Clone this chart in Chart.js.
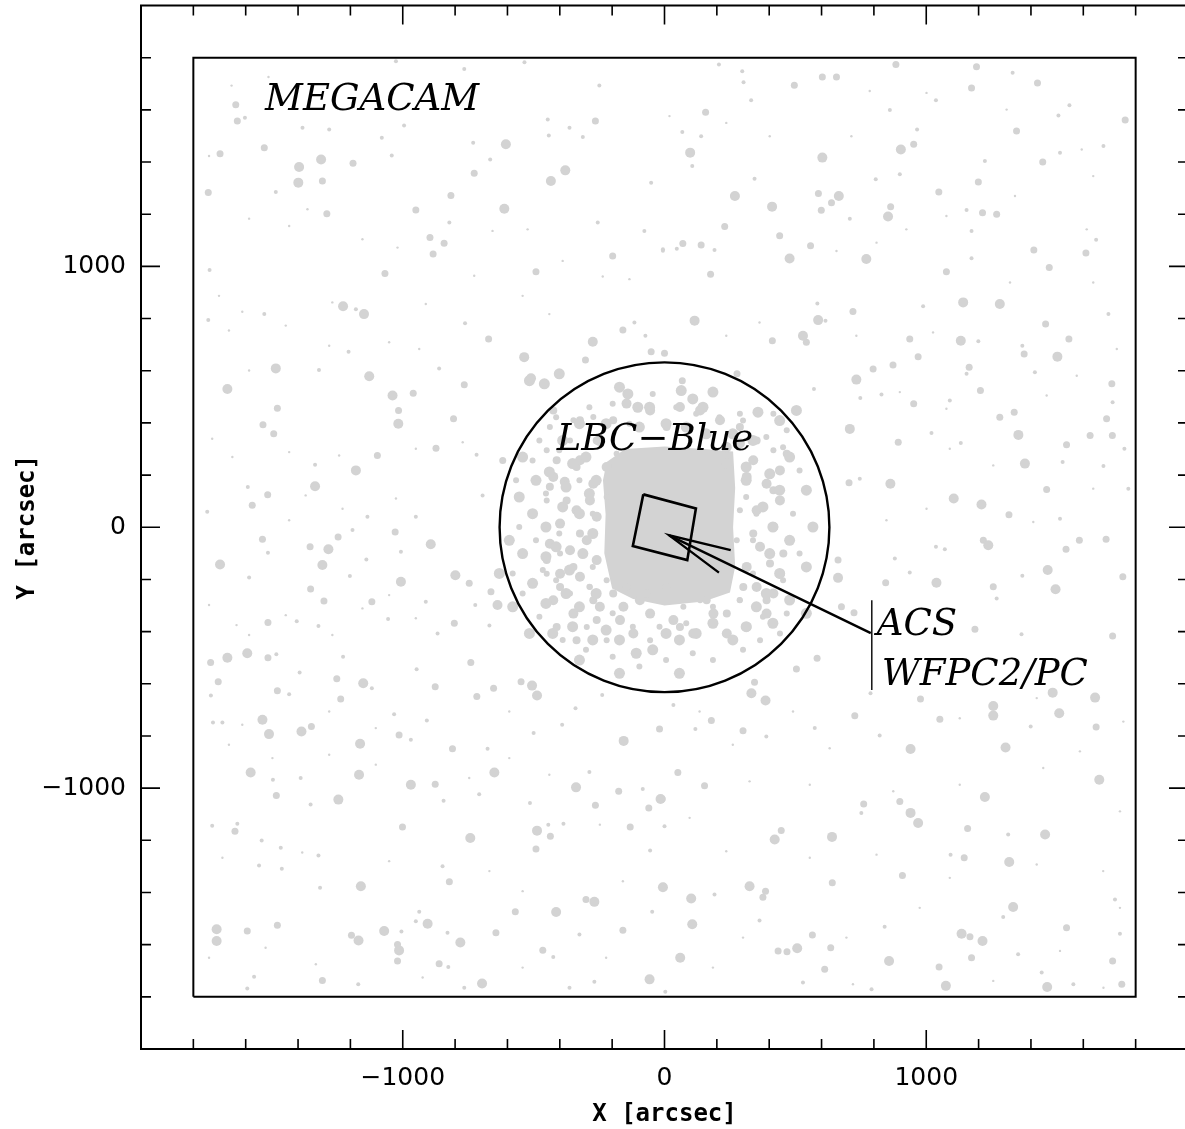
<!DOCTYPE html>
<html><head><meta charset="utf-8">
<script src="https://cdn.jsdelivr.net/npm/chart.js@4.4.0/dist/chart.umd.min.js"></script>
<style>html,body{margin:0;padding:0;background:#fff;overflow:hidden;} canvas{display:block;}</style>
</head><body>
<canvas id="c" width="1200" height="1129" style="width:1200px;height:1129px"></canvas>
<script>
// ---- axis ticks (arcsec) ----
const xMajorTicks = [-1000, 0, 1000];
const yMajorTicks = [-1000, 0, 1000];
const minorTicks = [-1800,-1600,-1400,-1200,-800,-600,-400,-200,200,400,600,800,1200,1400,1600,1800];

// ---- field outlines (arcsec) ----
const megacamField = [[-1800,-1800],[-1800,1800],[1800,1800],[1800,-1800],[-1800,-1800]];
const lbcBlueField = {cx: 0, cy: 0, r: 630};
const acsField = [[-81,126],[120,72],[87,-126],[-121,-72],[-81,126]];
const arrowShaft = [[788,-406],[18,-31]];
const arrowHead = [[253,-88],[18,-31],[208,-174]];
const labelBar = [[792,-280],[792,-624]];
const fieldLabels = [
  {text:'MEGACAM', x:-1526, y:1598},
  {text:'LBC\u2212Blue', x:-412, y:295},
  {text:'ACS', x:811, y:-414},
  {text:'WFPC2/PC', x:830, y:-603}
];

// ---- dense cluster core outline (arcsec) ----
const clusterCore = [[-221,250],[-150,300],[0,310],[150,300],[262,290],[270,150],[262,0],[270,-150],[250,-250],[150,-285],[0,-300],[-120,-275],[-200,-235],[-230,-100],[-225,50],[-235,180]];

// ---- stars (arcsec), by brightness class ----
const brightStars = [
[-1396,1381],[-1399,1321],[-1312,1410],[-606,1468],[-612,1221],[-379,1368],[-434,1327],[-1228,847],[-1148,817],[-274,711],[-536,652],[-510,571],[-1485,609],[-1670,530],[-1128,579],[-1039,505],[-1017,397],[-1179,218],[-1335,157],
[98,1436],[603,1417],[903,1448],[269,1270],[411,1229],[666,1270],[854,1191],[478,1030],[771,1028],[1141,862],[1281,856],[587,794],[115,792],[529,734],[1132,715],[1501,654],[733,566],[1352,354],[708,377],[1377,244],[1211,87],[1105,110],[863,167],
[-1698,-143],[-1284,-84],[-1307,-145],[-893,-65],[-1007,-209],[-799,-184],[-638,-298],[-1670,-500],[-1594,-483],[-1151,-598],[-506,-607],[-487,-645],[-1536,-738],[-1511,-793],[-1387,-783],[-1163,-830],[-156,-819],[-1581,-940],[-1167,-949],[-969,-987],[-650,-940],[-1246,-1044],[-338,-997],[-15,-1042],[-742,-1191],[-487,-1163],[-1160,-1376],[-6,-1380],[-268,-1436],[-414,-1475],[-1711,-1541],[-1711,-1586],[-1169,-1584],[-1071,-1548],[-905,-1520],[-1014,-1622],[-780,-1592],[-697,-1749],[-57,-1733],
[1237,-69],[1464,-164],[1494,-238],[1039,-213],[663,-194],[332,-636],[386,-664],[1256,-685],[1256,-722],[1483,-634],[1508,-713],[1645,-653],[940,-850],[1303,-844],[940,-1095],[969,-1134],[1224,-1034],[1661,-968],[1454,-1178],[421,-1197],[640,-1187],[1317,-1283],[325,-1376],[102,-1423],[1332,-1456],[106,-1522],[1135,-1558],[1215,-1586],[507,-1614],[60,-1650],[858,-1663],[1075,-1758],[1462,-1762]
];
const mediumStars = [
[-1638,1620],[-1632,1557],[-1698,1432],[-1529,1455],[-1307,1327],[-1190,1395],[-1743,1283],[-1290,1202],[-950,1216],[-816,1272],[-727,1357],[-264,1557],[-198,1040],[-491,979],[-896,1111],[-842,1089],[-884,1047],[-1068,973],[-672,722],[-302,641],[-455,550],[-159,756],[-51,673],[-960,514],[-1016,448],[-765,546],[-1479,456],[-1534,393],[-1493,358],[-806,416],[-873,303],[-1097,275],[-1516,125],[-1575,84],[-618,256],
[884,1774],[1192,1765],[1173,1684],[1425,1703],[603,1726],[657,1726],[496,1694],[157,1591],[952,1468],[1345,1519],[1445,1400],[1760,1561],[1199,1323],[1048,1285],[588,1279],[638,1244],[599,1215],[864,1229],[230,1153],[440,1117],[558,1079],[1077,979],[1215,1206],[1269,1200],[1411,1063],[1470,996],[1610,1051],[140,1082],[70,1088],[176,970],[720,827],[542,709],[412,715],[937,722],[1456,779],[1545,722],[1374,664],[969,654],[873,622],[797,607],[1164,613],[1207,524],[1709,550],[1336,441],[1281,422],[1689,416],[952,473],[1626,352],[1711,352],[1536,316],[893,326],[1460,145],[705,171],[1316,48],[0,667],[277,588],[68,562],
[-1536,-46],[-1354,-75],[-1247,-37],[-1029,-18],[-746,-215],[-1352,-237],[-1301,-283],[-1118,-286],[-663,-247],[-1515,-365],[-803,-368],[-1734,-518],[-1515,-500],[-1705,-592],[-1252,-581],[-1479,-627],[-1237,-658],[-876,-611],[-717,-649],[-653,-617],[-740,-518],[-548,-592],[-1349,-764],[-1014,-796],[-810,-849],[-19,-773],[-876,-985],[-1483,-1028],[-175,-1012],[-264,-1066],[-60,-1076],[-1641,-1165],[-1001,-1149],[-436,-1184],[-491,-1233],[-131,-1149],[-822,-1359],[-300,-1427],[-570,-1474],[-1594,-1548],[-1479,-1526],[-1196,-1564],[-1020,-1599],[-1020,-1663],[-644,-1554],[-465,-1621],[-159,-1545],[-861,-1673],[-1307,-1737],
[1218,-50],[1585,-50],[1687,-46],[1534,-84],[1751,-190],[1256,-228],[845,-213],[663,-126],[676,-305],[724,-328],[1186,-391],[1712,-417],[583,-502],[504,-543],[344,-594],[179,-741],[300,-780],[727,-723],[978,-658],[1052,-736],[1649,-766],[51,-940],[153,-991],[-9,-1042],[899,-1051],[761,-1061],[1158,-1155],[446,-1162],[1145,-1267],[909,-1335],[641,-1363],[386,-1395],[376,-1418],[-4,-1376],[565,-1563],[1167,-1570],[1536,-1535],[434,-1624],[468,-1627],[635,-1612],[612,-1694],[1049,-1686],[1173,-1650],[1712,-1663],[1747,-1752]
];
const faintStars = [
[-1603,1570],[-1485,1285],[-1080,1493],[-1042,1425],[-731,1474],[-666,1410],[-312,1496],[-363,1531],[-442,1502],[-822,1168],[-1738,986],[-1743,794],[-1529,817],[-1179,836],[-762,782],[-73,734],[-115,785],[-77,1136],[-51,1321],[-1207,673],[-1320,603],[-861,609],[-1592,154],[-1335,240],[-1747,59],[-1135,40],[-950,40],[-695,122],[-718,278],[-1026,1786],[-535,1782],[-765,1757],[-249,1693],[-446,1563],[-255,1168],[-6,1066],[-1383,1531],[-995,1540],[-1281,1525],
[1330,1742],[297,1748],[302,1706],[208,1774],[106,1385],[68,1515],[140,1499],[331,1637],[965,1525],[861,1599],[1037,1637],[1511,1436],[1547,1618],[1505,1578],[1677,1461],[1224,1404],[899,1353],[807,1334],[344,1336],[708,1183],[1173,1031],[1154,1216],[1173,1136],[1649,1102],[47,1068],[191,1063],[-6,1060],[988,847],[615,792],[584,858],[1199,713],[1696,817],[1367,696],[1415,594],[1154,588],[1712,479],[1090,486],[829,509],[748,495],[571,530],[1020,361],[1132,323],[1521,250],[1677,235],[1757,301],[746,186],[1511,33],[1772,148],
[-1515,-98],[-1192,-11],[-1007,-94],[-1139,-124],[-1202,-187],[-1587,-193],[-912,-286],[-723,-298],[-1405,-360],[-1322,-379],[-1056,-352],[-669,-377],[-867,-407],[-1483,-487],[-1228,-496],[-1394,-557],[-1118,-617],[-1434,-640],[-1733,-645],[-947,-544],[-1725,-748],[-1689,-748],[-1033,-717],[-969,-815],[-908,-741],[-676,-849],[-500,-789],[-391,-757],[-340,-694],[-238,-643],[-1496,-968],[-1390,-961],[-1352,-1063],[-844,-1048],[-708,-1023],[-287,-938],[-83,-1003],[-514,-1057],[-1632,-1137],[-1728,-1144],[-1539,-1201],[-444,-1140],[-386,-1137],[-55,-1239],[0,-1146],[-1466,-1229],[-1462,-1309],[-1549,-1297],[-1322,-1258],[-848,-1299],[-1316,-1382],[-47,-1474],[-1005,-1550],[-937,-1474],[-950,-1510],[-829,-1554],[-425,-1647],[-325,-1561],[-826,-1686],[-1568,-1723],[-1594,-1768],[-1170,-1752],[-765,-1765],[-363,-1765],[-268,-1742],
[1071,-84],[1037,-75],[880,-120],[937,-173],[1367,-186],[1269,-273],[1364,-410],[34,-681],[389,-802],[118,-773],[787,-636],[822,-798],[1399,-764],[574,-770],[752,-1095],[1313,-1178],[1093,-1255],[191,-1408],[1294,-1494],[1721,-1427],[363,-1507],[841,-1531],[1740,-1558],[1351,-1637],[1441,-1707],[3,-1781],[791,-1771],[529,-1745],[1562,-1752]
];
const tinyStars = [
[-1654,1693],[-1513,1726],[-1740,1423],[-1587,1183],[-1434,1155],[-1364,1219],[-1154,1104],[-1020,1072],[-727,964],[-657,1136],[-523,1142],[-389,1021],[-236,961],[-134,951],[-1702,887],[-1613,826],[-1447,773],[-1664,754],[-1587,601],[-1281,696],[-1052,709],[-937,683],[-440,817],[-1269,862],[-912,856],[-542,887],[-1728,339],[-1651,269],[-1434,288],[-1243,275],[-950,301],[-771,326],[-1371,122],[-1230,71],[-1026,110],[-1434,27],
[19,1576],[236,1550],[402,1499],[714,1499],[784,1672],[1001,1665],[1307,1601],[1594,1448],[1638,1346],[1613,1142],[1339,1270],[1077,1193],[924,1142],[810,1091],[657,1059],[363,785],[236,734],[733,734],[1026,747],[1320,938],[1638,938],[1728,683],[1575,581],[1460,505],[1077,454],[899,518],[1090,301],[1256,237],[1638,148],[1001,71],[1409,20],[848,27],
[-1740,-298],[-1635,-375],[-1587,-413],[-1447,-337],[-1269,-413],[-1154,-311],[-1052,-260],[-950,-349],[-1613,-757],[-1664,-834],[-1281,-706],[-1103,-770],[-1498,-885],[-1281,-872],[-1103,-910],[-746,-961],[-593,-885],[-440,-949],[-247,-1140],[-1689,-1267],[-1384,-1247],[-1052,-1280],[-669,-1318],[-542,-1395],[-159,-1357],[-223,-1650],[-1740,-1650],[-1524,-1612],[-1332,-1675],[-924,-1726],[-542,-1688],[-593,-706],
[134,-706],[261,-834],[491,-706],[631,-847],[822,-796],[1128,-732],[1422,-655],[1587,-859],[1753,-745],[1740,-1089],[1447,-923],[1128,-987],[874,-1012],[555,-987],[325,-974],[96,-1114],[236,-1242],[555,-1267],[810,-1255],[1090,-1344],[1422,-1293],[1676,-1318],[1740,-1459],[1511,-1624],[975,-1459],[695,-1573],[300,-1573],[185,-1688],[720,-1752],[1256,-1739],[1677,-1765]
];
const clusterBlobs = [
[-516,562],[-459,550],[-402,588],[-172,537],[-140,511],[-102,460],[-57,460],[64,524],[108,492],[147,460],[185,518],[357,441],[440,409],[504,448],
[-542,269],[-491,180],[-440,212],[-376,154],[-351,244],[-300,269],[-555,116],[-504,52],[-453,1],[-389,78],[-325,52],[-287,129],
[-593,-50],[-542,-101],[-453,-113],[-414,-75],[-363,-164],[-312,-101],[-274,-24],[-504,-215],[-453,-292],[-376,-254],[-325,-305],[-261,-254],
[-427,-407],[-351,-381],[-274,-432],[-223,-394],[-172,-432],[-108,-483],[-45,-470],[6,-407],[57,-432],[121,-407],[185,-368],[261,-432],[312,-381],[351,-305],[389,-254],
[440,-177],[402,-101],[478,-50],[414,1],[376,78],[440,142],[402,205],[312,231],[338,333],[261,358],[478,269],[542,142],[567,1],[542,-152],[478,-279],[414,-368],[542,-330],
[57,-560],[-172,-560],[-325,-509],[-516,-407],[-580,-305],[-631,-177],
[-261,180],[-249,333],[-325,397],[-389,333],[-223,397],[-96,384],[6,397],[83,384],[159,358],[236,307],[312,180]
];
const clusterMottle = [
[-425,193],[-381,174],[-323,257],[-285,103],[-336,65],[-399,14],[-259,40],[-438,-63],[-361,-88],[-297,-50],[-399,-178],[-323,-190],[-259,-126],[-425,-280],[-348,-331],[-247,-305],[-170,-356],[-119,-407],[-55,-331],[34,-356],[110,-407],[187,-331],[238,-407],[314,-382],[390,-331],[416,-254],[441,-178],[352,-229],[314,-152],[365,-75],[416,1],[352,65],[441,103],[390,167],[314,193],[441,218],[339,257],[288,321],[212,410],[136,448],[59,461],[-55,448],[-145,474],[238,244],[-221,231],[-272,167],[-157,-305],[-94,-280]
];
const clusterMottle2 = [
[-412,257],[-336,231],[-438,155],[-374,103],[-323,-24],[-450,-126],[-399,-229],[-348,-152],[-272,-280],[-196,-254],[-412,-382],[-336,-433],[-259,-356],[-145,-229],[-68,-254],[8,-229],[59,-382],[161,-280],[238,-331],[301,-229],[390,-280],[454,-101],[403,-139],[339,-24],[416,142],[467,282],[352,333],[288,384],[161,359],[8,384],[-94,384],[-196,410],[-259,333],[-323,410],[-425,448]
];
const clusterSpeckles = [
[-478,333],[-414,422],[-287,460],[-198,473],[-134,397],[-45,511],[45,460],[121,435],[210,422],[300,409],[389,346],[453,307],[516,218],[491,52],[516,-101],[453,-203],[376,-343],[300,-470],[185,-509],[108,-483],[6,-509],[-96,-534],[-198,-496],[-300,-470],[-389,-432],[-478,-343],[-542,-254],[-580,-177],[-555,1],[-567,180],[-504,256],[-402,295],[-325,180],[-274,52],[-274,-152],[-287,-228],[-198,-330],[-121,-381],[-19,-381],[83,-368],[185,-305],[287,-279],[338,-177],[338,-50],[351,52],[312,116],[-453,129],[-402,-24],[-491,-50],[-465,-164],[-414,-203],
[-450,295],[-361,333],[-247,346],[-183,282],[-450,103],[-221,116],[-399,-101],[-450,-178],[-285,-229],[-221,-203],[-361,-254],[-297,-382],[-221,-433],[-55,-433],[8,-407],[72,-305],[136,-280],[212,-229],[288,-280],[365,-433],[441,-407],[467,-331],[276,-50],[288,65],[416,295],[467,372],[288,435],[416,435],[-272,423],[-348,410],[-438,384]
];

const STAR = 'rgb(211,211,211)';
const pts = a => a.map(p => ({x: p[0], y: p[1]}));
const fmt = v => v < 0 ? '\u2212' + Math.abs(v) : String(v);

const lineDs = (data, w) => ({type:'scatter', data: pts(data), showLine: true, borderColor:'#000', borderWidth: w, pointRadius: 0, fill: false, tension: 0});
const starDs = (data, r) => ({type:'scatter', data: pts(data), pointRadius: r, pointBackgroundColor: STAR, pointBorderWidth: 0, showLine: false});

const decor = {
  id: 'decor',
  beforeDatasetsDraw(chart) {
    const {ctx, scales: {x, y}} = chart;
    ctx.save();
    ctx.fillStyle = STAR;
    ctx.beginPath();
    clusterCore.forEach((p, i) => {
      const px = x.getPixelForValue(p[0]), py = y.getPixelForValue(p[1]);
      i ? ctx.lineTo(px, py) : ctx.moveTo(px, py);
    });
    ctx.closePath();
    ctx.fill();
    ctx.restore();
  },
  afterDatasetsDraw(chart) {
    const {ctx, chartArea: ca, scales: {x, y}} = chart;
    ctx.save();
    const cx = x.getPixelForValue(lbcBlueField.cx), cy = y.getPixelForValue(lbcBlueField.cy);
    const r = x.getPixelForValue(lbcBlueField.cx + lbcBlueField.r) - cx;
    ctx.strokeStyle = '#000';
    ctx.lineWidth = 2.4;
    ctx.beginPath(); ctx.arc(cx, cy, r, 0, Math.PI * 2); ctx.stroke();
    ctx.lineWidth = 2;
    ctx.strokeRect(ca.left, ca.top, ca.right - ca.left, ca.bottom - ca.top);
    ctx.lineWidth = 1.6;
    ctx.beginPath();
    const tick = (vals, len) => {
      vals.forEach(v => {
        const px = x.getPixelForValue(v);
        ctx.moveTo(px, ca.bottom); ctx.lineTo(px, ca.bottom - len);
        ctx.moveTo(px, ca.top); ctx.lineTo(px, ca.top + len);
        const py = y.getPixelForValue(v);
        ctx.moveTo(ca.left, py); ctx.lineTo(ca.left + len, py);
        ctx.moveTo(ca.right, py); ctx.lineTo(ca.right - len, py);
      });
    };
    tick(minorTicks, 10);
    tick(xMajorTicks, 19);
    ctx.stroke();
    ctx.fillStyle = '#000';
    ctx.font = 'italic 37px "DejaVu Serif"';
    ctx.textAlign = 'left';
    ctx.textBaseline = 'alphabetic';
    fieldLabels.forEach(l => ctx.fillText(l.text, x.getPixelForValue(l.x), y.getPixelForValue(l.y)));
    ctx.restore();
  }
};

new Chart(document.getElementById('c'), {
  type: 'scatter',
  data: { datasets: [
    lineDs(megacamField, 2),
    lineDs(acsField, 2.6),
    lineDs(arrowShaft, 2.4),
    lineDs(arrowHead, 2.4),
    lineDs(labelBar, 1.4),
    starDs(brightStars, 5),
    starDs(clusterBlobs, 5.5),
    starDs(clusterMottle, 5),
    starDs(clusterMottle2, 4),
    starDs(mediumStars, 3.5),
    starDs(clusterSpeckles, 3),
    starDs(faintStars, 2),
    starDs(tinyStars, 1.2)
  ]},
  options: {
    responsive: false,
    animation: false,
    events: [],
    layout: { padding: { top: 5, right: 12, left: 0, bottom: 0 } },
    plugins: { legend: { display: false }, tooltip: { enabled: false } },
    scales: {
      x: {
        type: 'linear', min: -2000, max: 2000,
        afterFit: s => { s.height = 80; s.paddingLeft = 0; s.paddingRight = 0; },
        afterBuildTicks: s => { s.ticks = xMajorTicks.map(v => ({value: v})); },
        grid: { display: false, drawTicks: false },
        border: { display: false },
        ticks: { autoSkip: false, maxRotation: 0, padding: 14, color: '#000', font: { family: 'DejaVu Sans', size: 25 }, callback: fmt },
        title: { display: true, text: 'X [arcsec]', color: '#000', font: { family: 'DejaVu Sans Mono', weight: 'bold', size: 24 }, padding: { top: 0, bottom: 0 } }
      },
      y: {
        type: 'linear', min: -2000, max: 2000,
        afterFit: s => { s.width = 141; s.paddingTop = 0; s.paddingBottom = 0; },
        afterBuildTicks: s => { s.ticks = yMajorTicks.map(v => ({value: v})); },
        grid: { display: false, drawTicks: false },
        border: { display: false },
        ticks: { autoSkip: false, padding: 15, color: '#000', font: { family: 'DejaVu Sans', size: 25 }, callback: fmt },
        title: { display: true, text: 'Y [arcsec]', color: '#000', font: { family: 'DejaVu Sans Mono', weight: 'bold', size: 24 }, padding: { top: 13, bottom: 0 } }
      }
    }
  },
  plugins: [decor]
});
</script>
</body></html>
